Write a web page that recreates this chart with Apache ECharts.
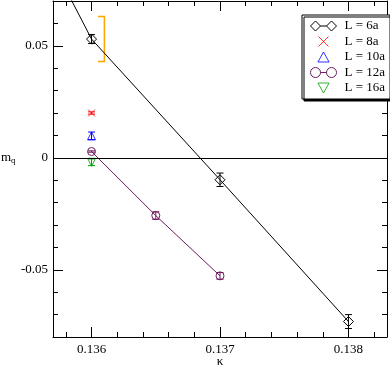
<!DOCTYPE html>
<html>
<head>
<meta charset="utf-8">
<script src="https://cdn.jsdelivr.net/npm/echarts@6/dist/echarts.min.js"></script>
<style>
html, body { margin: 0; padding: 0; background: #fff; }
#chart { width: 390px; height: 365px; }
</style>
</head>
<body>
<div id="chart"></div>
<script>
// m_q vs kappa, one set of arrays per lattice size
// (first L=6a point sits above the plot, only its line shows)
var kappa6 = [0.1355, 0.136, 0.137, 0.138]
var mq6 = [0.1085, 0.053, -0.0098, -0.0731]
var err6 = [0, 0.002, 0.003, 0.0031]

var kappa8 = [0.136]
var mq8 = [0.0200]
var err8 = [0.0005]

var kappa10 = [0.136]
var mq10 = [0.0098]
var err10 = [0.0017]

var kappa12 = [0.136, 0.1365, 0.137]
var mq12 = [0.0028, -0.0258, -0.0527]
var err12 = [0.0003, 0.0017, 0.0015]

var kappa16 = [0.136]
var mq16 = [-0.002]
var err16 = [0.0015]

// orange bracket next to the first L=6a point
var bracketKappa = [0.13605, 0.1361]
var bracketMq = [0.0631, 0.0430]

var xTicks = [0.136, 0.137, 0.138]
var yTicks = [-0.05, 0, 0.05]

var serif = 'Liberation Serif'
var purple = '#6f1a5f'
var green = '#00a000'

var chart = echarts.init(document.getElementById('chart'))

function pairs(xs, ys) {
  return xs.map((x, i) => [x, ys[i]])
}

function errData(xs, ys, es) {
  return xs.map((x, i) => [x, ys[i] - es[i], ys[i] + es[i]]).filter((d, i) => es[i] > 0)
}

function errorSeries(xs, ys, es, color) {
  return {
    type: 'custom',
    silent: true,
    clip: true,
    z: 3,
    data: errData(xs, ys, es),
    encode: { x: 0, y: [1, 2] },
    renderItem: function (params, api) {
      let top = api.coord([api.value(0), api.value(2)])
      let bot = api.coord([api.value(0), api.value(1)])
      let w = 3.5
      let st = { stroke: color, lineWidth: 1 }
      return {
        type: 'group',
        children: [
          { type: 'line', shape: { x1: top[0], y1: top[1], x2: bot[0], y2: bot[1] }, style: st },
          { type: 'line', shape: { x1: top[0] - w, y1: top[1], x2: top[0] + w, y2: top[1] }, style: st },
          { type: 'line', shape: { x1: bot[0] - w, y1: bot[1], x2: bot[0] + w, y2: bot[1] }, style: st }
        ]
      }
    }
  }
}

function isTick(v, list) {
  return list.some(t => Math.abs(t - v) < 1e-9)
}

function xAxisCfg(pos) {
  return {
    type: 'value',
    position: pos,
    min: 0.1357,
    max: 0.1383,
    splitNumber: 3,
    axisLine: { onZero: false, lineStyle: { color: '#000', width: 1 } },
    axisTick: { inside: true, length: 10, lineStyle: { color: '#000' } },
    minorTick: { show: true, splitNumber: 5, length: 5, lineStyle: { color: '#000' } },
    splitLine: { show: false },
    axisLabel: {
      show: pos === 'bottom',
      margin: 6,
      color: '#000',
      fontFamily: serif,
      fontSize: 13,
      formatter: v => isTick(v, xTicks) ? String(+v.toFixed(4)) : ''
    }
  }
}

function yAxisCfg(pos) {
  return {
    type: 'value',
    position: pos,
    min: -0.08,
    max: 0.07,
    splitNumber: 3,
    axisLine: { onZero: false, lineStyle: { color: '#000', width: 1 } },
    axisTick: { inside: true, length: 10, lineStyle: { color: '#000' } },
    minorTick: { show: true, splitNumber: 5, length: 5, lineStyle: { color: '#000' } },
    splitLine: { show: false },
    axisLabel: {
      show: pos === 'left',
      margin: 5,
      color: '#000',
      fontFamily: serif,
      fontSize: 13,
      formatter: v => isTick(v, yTicks) ? String(+v.toFixed(3)) : ''
    }
  }
}

let xBottom = xAxisCfg('bottom')
xBottom.name = 'κ'
xBottom.nameLocation = 'middle'
xBottom.nameGap = 18
xBottom.nameMoveOverlap = false
xBottom.nameTextStyle = { color: '#000', fontFamily: serif, fontSize: 13 }

let yLeft = yAxisCfg('left')
yLeft.name = 'm{q|q}'
yLeft.nameLocation = 'middle'
yLeft.nameRotate = 0
yLeft.nameGap = 52
yLeft.nameMoveOverlap = false
yLeft.nameTextStyle = {
  color: '#000', fontFamily: serif, fontSize: 13,
  align: 'left', verticalAlign: 'middle', padding: [0, 0, 22, 0],
  rich: { q: { color: '#000', fontFamily: serif, fontSize: 9, padding: [6, 0, 0, 0], verticalAlign: 'bottom' } }
}

let hollow = c => ({ color: 'none', borderColor: c, borderWidth: 1 })

let option = {
  animation: false,
  backgroundColor: '#fff',
  grid: { left: 53, right: 3, top: 1, bottom: 28, outerBoundsMode: 'none' },
  xAxis: [xBottom, xAxisCfg('top')],
  yAxis: [yLeft, yAxisCfg('right')],
  legend: {
    orient: 'vertical',
    left: 302,
    top: 15,
    z: 10,
    selectedMode: false,
    padding: [3.5, 5, 3.5, 6],
    itemGap: 0.5,
    itemWidth: 26,
    itemHeight: 10,
    backgroundColor: '#fff',
    borderColor: '#000',
    borderWidth: 1,
    borderRadius: 0,
    shadowColor: '#000',
    shadowBlur: 0,
    shadowOffsetX: 2,
    shadowOffsetY: 2,
    textStyle: { color: '#000', fontFamily: serif, fontSize: 13, lineHeight: 13, padding: [0, 0, 0, 3] },
    data: [
      { name: 'L = 6a', icon: 'path://M0,5L5,0L10,5L5,10ZM10,5L16,5M16,5L21,0L26,5L21,10Z', itemStyle: hollow('#000') },
      { name: 'L = 8a', icon: 'path://M0,0L7,7M7,0L0,7', itemStyle: hollow('#ff0000') },
      { name: 'L = 10a', icon: 'path://M5,0L10,9L0,9Z', itemStyle: hollow('#0000ff') },
      { name: 'L = 12a', icon: 'path://M0,5A5,5,0,1,1,10,5A5,5,0,1,1,0,5ZM10,5L16,5M16,5A5,5,0,1,1,26,5A5,5,0,1,1,16,5Z', itemStyle: hollow(purple) },
      { name: 'L = 16a', icon: 'path://M0,0L10,0L5,9Z', itemStyle: hollow(green) }
    ]
  },
  series: [
    {
      name: 'L = 6a',
      type: 'line',
      data: pairs(kappa6, mq6),
      symbol: 'diamond',
      symbolSize: 10,
      clip: true,
      z: 4,
      itemStyle: hollow('#000'),
      lineStyle: { color: '#000', width: 1 },
      emphasis: { disabled: true },
      markLine: {
        silent: true,
        symbol: 'none',
        label: { show: false },
        lineStyle: { color: '#000', width: 1, type: 'solid' },
        data: [{ yAxis: 0 }]
      }
    },
    {
      name: 'L = 8a',
      type: 'scatter',
      data: pairs(kappa8, mq8),
      symbol: 'path://M0,0L10,10M10,0L0,10',
      symbolSize: 7,
      z: 4,
      itemStyle: hollow('#ff0000'),
      emphasis: { disabled: true }
    },
    {
      name: 'L = 10a',
      type: 'scatter',
      data: pairs(kappa10, mq10),
      symbol: 'triangle',
      symbolSize: 8,
      z: 4,
      itemStyle: hollow('#0000ff'),
      emphasis: { disabled: true }
    },
    {
      name: 'L = 12a',
      type: 'line',
      data: pairs(kappa12, mq12),
      symbol: 'circle',
      symbolSize: 8,
      z: 4,
      itemStyle: hollow(purple),
      lineStyle: { color: purple, width: 1 },
      emphasis: { disabled: true }
    },
    {
      name: 'L = 16a',
      type: 'scatter',
      data: pairs(kappa16, mq16),
      symbol: 'triangle',
      symbolRotate: 180,
      symbolSize: 8,
      z: 4,
      itemStyle: hollow(green),
      emphasis: { disabled: true }
    },
    errorSeries(kappa6, mq6, err6, '#000'),
    errorSeries(kappa8, mq8, err8, '#ff0000'),
    errorSeries(kappa10, mq10, err10, '#0000ff'),
    errorSeries(kappa12, mq12, err12, purple),
    errorSeries(kappa16, mq16, err16, green),
    {
      type: 'custom',
      silent: true,
      z: 3,
      data: [[bracketKappa[0], bracketKappa[1], bracketMq[0], bracketMq[1]]],
      encode: { x: [0, 1], y: [2, 3] },
      renderItem: function (params, api) {
        let p1 = api.coord([api.value(0), api.value(2)])
        let p2 = api.coord([api.value(1), api.value(2)])
        let p3 = api.coord([api.value(1), api.value(3)])
        let p4 = api.coord([api.value(0), api.value(3)])
        return {
          type: 'polyline',
          shape: { points: [p1, p2, p3, p4] },
          style: { stroke: '#ffa500', lineWidth: 1.5, fill: 'none' }
        }
      }
    }
  ]
}

chart.setOption(option)
</script>
</body>
</html>
